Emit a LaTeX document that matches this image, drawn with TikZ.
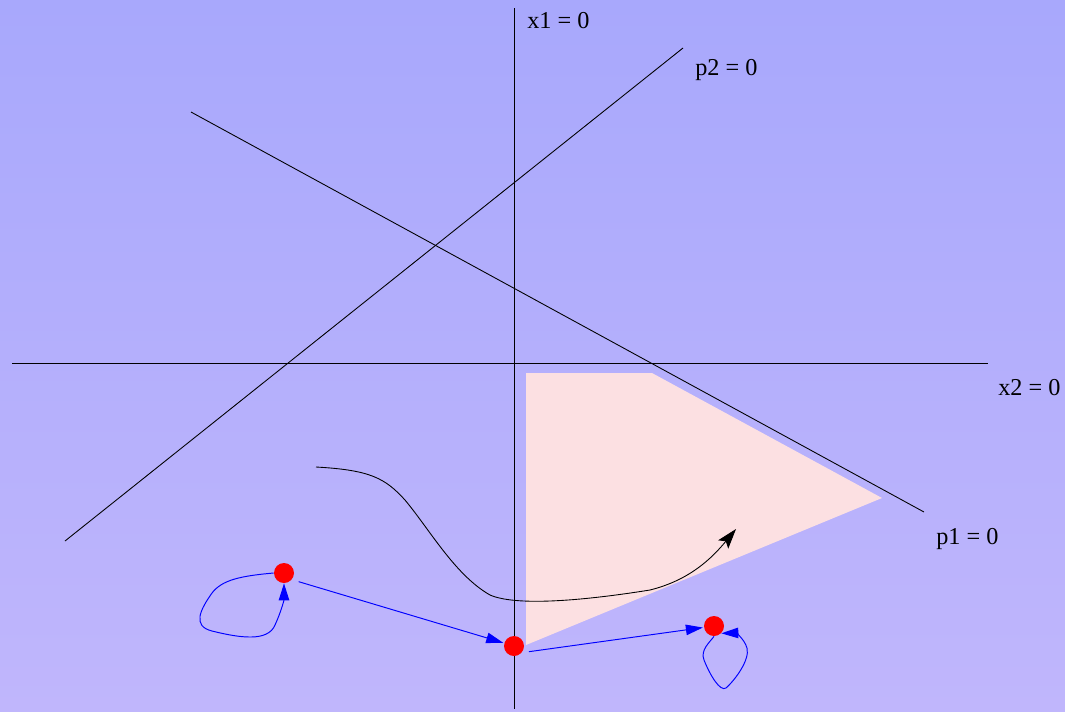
\documentclass[tikz,border=0pt]{standalone}
\usepackage{fontspec}
\setmainfont{Liberation Serif}
\usetikzlibrary{arrows.meta,positioning}
\definecolor{bgtop}{RGB}{168,168,252}
\definecolor{bgbottom}{RGB}{192,182,252}
\definecolor{region}{RGB}{252,224,226}
\tikzset{
  axis/.style={black, line width=0.5pt},
  lbl/.style={font=\fontsize{13.8}{16}\selectfont, inner sep=0pt, anchor=base west},
  state/.style={circle, fill=red, minimum size=0.4cm, inner sep=0pt},
  move/.style={blue, line width=0.55pt, -{Triangle[length=3.4mm,width=2.1mm]}},
}

\begin{document}
\begin{tikzpicture}[x=0.02cm,y=-0.02cm]
        \shade[top color=bgtop, bottom color=bgbottom] (0,0) rectangle (1065,711);
        % feasible region
        \fill[region] (526,373) -- (652,373) -- (882,498) -- (526,645) -- cycle;
        % axes and constraint lines
        \coordinate (x1top) at (514,8);
        \coordinate (x1bot) at (514,709);
        \coordinate (x2left) at (12,363);
        \coordinate (x2right) at (988,363);
        \coordinate (p2a) at (65,541);
        \coordinate (p2b) at (683,48);
        \coordinate (p1a) at (191,112);
        \coordinate (p1b) at (924,512);
        \draw[axis] (x1top) -- (x1bot);
        \draw[axis] (x2left) -- (x2right);
        \draw[axis] (p2a) -- (p2b);
        \draw[axis] (p1a) -- (p1b);
        \node[lbl] (x1lbl) at (527,28) {x1 = 0};
        \node[lbl] (x2lbl) at (998,395) {x2 = 0};
        \node[lbl] (p2lbl) at (695,75) {p2 = 0};
        \node[lbl] (p1lbl) at (936,544) {p1 = 0};
        % trajectory
        \coordinate (start) at (316,467);
        \coordinate (tip) at (736,529);
        \draw[axis, -{Stealth[length=4mm,width=2.6mm,inset=0.8mm]}] (start) .. controls (370,470) and (385,478) .. (405,500)
              .. controls (430,530) and (455,575) .. (490,595)
              .. controls (520,608) and (600,598) .. (650,590)
              .. controls (690,580) and (712,558) .. (tip);
        % states
        \node[state] (s1) at (284,573) {};
        \node[state] (s2) at (514,646) {};
        \node[state] (s3) at (714,626) {};
        \draw[move, shorten <=4pt, shorten >=0.5pt] (s1.-40) -- (s2);
        \draw[move, shorten <=4pt, shorten >=0.5pt] (s2.-40) -- (s3);
        \draw[move] (s1.west) .. controls (240,576) and (222,580) .. (212,593)
              .. controls (200,610) and (192,626) .. (212,631)
              .. controls (240,638) and (268,642) .. (275,625)
              .. controls (281,612) and (284,600) .. (s1.south);
        \draw[move] (s3.south) .. controls (710,642) and (700,650) .. (704,660)
              .. controls (710,675) and (720,692) .. (726,688)
              .. controls (735,680) and (750,660) .. (747,648)
              .. controls (744,638) and (735,633) .. (s3.south east);
\end{tikzpicture}
\end{document}
